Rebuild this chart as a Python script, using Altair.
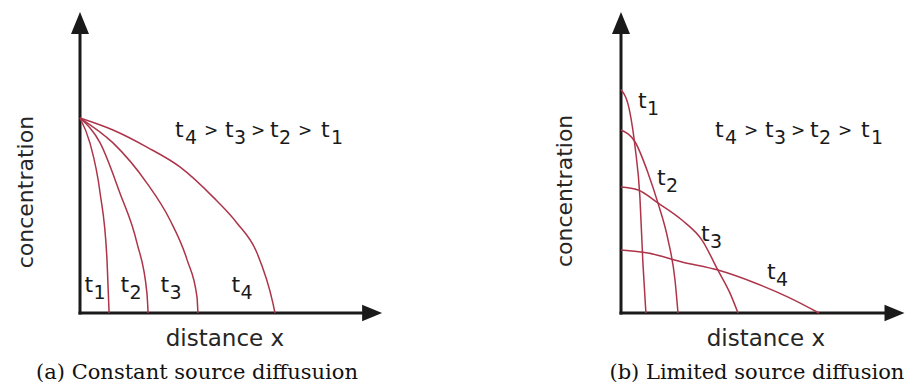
import altair as alt
import pandas as pd

RED = "#ad3449"
INK = "#1a1a1a"
TXT = "#262626"
SANS = "DejaVu Sans"
SERIF = "DejaVu Serif"

series = ["t1", "t2", "t3", "t4"]
label_digits = ["1", "2", "3", "4"]
order_digits = ["4", "3", "2", "1"]
x_title = "distance x"
y_title = "concentration"
caption_a = "(a) Constant source diffusuion"
caption_b = "(b) Limited source diffusion"

# ---- panel (a): constant source diffusion (distance, concentration) ----
a_t1_x = [0.0, 0.33, 0.67, 0.90, 0.97]
a_t1_y = [6.5, 5.67, 4.00, 1.77, 0.0]
a_t2_x = [0.0, 0.67, 1.33, 1.90, 2.23, 2.27]
a_t2_y = [6.5, 5.67, 4.00, 2.33, 0.67, 0.0]
a_t3_x = [0.0, 1.10, 2.23, 3.00, 3.57, 3.90, 3.93]
a_t3_y = [6.5, 5.67, 4.33, 3.10, 1.77, 0.53, 0.0]
a_t4_x = [0.0, 1.10, 2.23, 3.33, 4.43, 5.23, 5.90, 6.43, 6.50]
a_t4_y = [6.5, 6.10, 5.53, 4.87, 3.87, 3.00, 2.00, 0.33, 0.0]

# ---- panel (b): limited source diffusion ----
b_t1_x = [0.0, 0.30, 0.47, 0.63, 0.73, 0.83]
b_t1_y = [7.45, 6.67, 5.53, 3.87, 1.67, 0.0]
b_t2_x = [0.0, 0.47, 0.90, 1.23, 1.57, 1.80, 1.90]
b_t2_y = [6.10, 5.70, 4.67, 3.67, 2.43, 1.10, 0.0]
b_t3_x = [0.0, 0.57, 1.23, 2.03, 2.70, 3.23, 3.63, 3.90]
b_t3_y = [4.20, 4.10, 3.67, 3.10, 2.43, 1.43, 0.67, 0.0]
b_t4_x = [0.0, 0.90, 2.03, 3.23, 4.47, 5.57, 6.60]
b_t4_y = [2.10, 2.00, 1.70, 1.43, 1.00, 0.53, 0.0]

# label anchors (data units)
a_lab_x = [0.48, 1.68, 3.02, 5.38]
a_lab_y = [0.70, 0.70, 0.70, 0.70]
b_lab_x = [0.90, 1.53, 3.00, 5.20]
b_lab_y = [6.83, 4.27, 2.40, 1.13]

x_tip_a = 10.07
x_tip_b = 9.45
y_tip = 10.03


def curves_df(xs_list, ys_list):
    rows = []
    for s, xs, ys in zip(series, xs_list, ys_list):
        for x, y in zip(xs, ys):
            rows.append({"series": s, "x": x, "y": y})
    return pd.DataFrame(rows)


df_a = curves_df([a_t1_x, a_t2_x, a_t3_x, a_t4_x], [a_t1_y, a_t2_y, a_t3_y, a_t4_y])
df_b = curves_df([b_t1_x, b_t2_x, b_t3_x, b_t4_x], [b_t1_y, b_t2_y, b_t3_y, b_t4_y])

UP = "M0,0L0.818,2L-0.818,2Z"
RIGHT = "M0,0L-2,0.818L-2,-0.818Z"

# pixel offsets of the pieces of "t4 > t3 > t2 > t1" from its centre
ORDER_T_DX = [-86, -36, 9, 60]
ORDER_D_DX = [-76, -27, 18, 70]
ORDER_GT_DX = [-57, -10, 37]


def panel(df, x_dom, width, x_tip, lab_x, lab_y, order_xy, ytitle_xy, xtitle_xy, cap_xy, caption):
    xs = alt.Scale(domain=x_dom, nice=False, zero=False)
    ys = alt.Scale(domain=[-2.367, 10.167], nice=False, zero=False)
    X = lambda f: alt.X(f, type="quantitative", scale=xs, axis=None)
    Y = lambda f: alt.Y(f, type="quantitative", scale=ys, axis=None)

    axes = pd.DataFrame({"x": [0, 0], "y": [0, 0], "x2": [0, x_tip - 0.6], "y2": [y_tip - 0.6, 0]})
    rules = alt.Chart(axes).mark_rule(strokeWidth=3, color=INK, strokeCap="square").encode(
        x=X("x"), y=Y("y"), x2="x2", y2="y2")
    up = alt.Chart(pd.DataFrame({"x": [0], "y": [y_tip]})).mark_point(
        shape=UP, size=484, filled=True, color=INK, opacity=1, strokeWidth=0).encode(x=X("x"), y=Y("y"))
    right = alt.Chart(pd.DataFrame({"x": [x_tip], "y": [0]})).mark_point(
        shape=RIGHT, size=400, filled=True, color=INK, opacity=1, strokeWidth=0).encode(x=X("x"), y=Y("y"))

    lines = alt.Chart(df).mark_line(interpolate="monotone", strokeWidth=1.5, color=RED).encode(
        x=X("x"), y=Y("y"), detail="series:N")

    lab_df = pd.DataFrame({"x": lab_x, "y": lab_y, "t": ["t"] * 4, "d": label_digits})
    lab_t = alt.Chart(lab_df).mark_text(font=SANS, fontSize=22, color=INK, align="left",
                                        baseline="alphabetic", dx=-10).encode(x=X("x"), y=Y("y"), text="t:N")
    lab_d = alt.Chart(lab_df).mark_text(font=SANS, fontSize=19, color=INK, align="left",
                                        baseline="alphabetic", dx=-1, dy=7).encode(x=X("x"), y=Y("y"), text="d:N")

    layers = [rules, up, right, lines, lab_t, lab_d]

    odf = pd.DataFrame({"x": [order_xy[0]], "y": [order_xy[1]]})
    for i in range(4):
        layers.append(alt.Chart(odf).mark_text(text="t", font=SANS, fontSize=22, color=INK, align="left",
                                               baseline="alphabetic", dx=ORDER_T_DX[i]).encode(x=X("x"), y=Y("y")))
        layers.append(alt.Chart(odf).mark_text(text=order_digits[i], font=SANS, fontSize=19, color=INK,
                                               align="left", baseline="alphabetic", dx=ORDER_D_DX[i], dy=7)
                      .encode(x=X("x"), y=Y("y")))
    for i in range(3):
        layers.append(alt.Chart(odf).mark_text(text=">", font=SANS, fontSize=17, color=INK, align="left",
                                               baseline="alphabetic", dx=ORDER_GT_DX[i], dy=-1)
                      .encode(x=X("x"), y=Y("y")))

    ytl = alt.Chart(pd.DataFrame({"x": [ytitle_xy[0]], "y": [ytitle_xy[1]], "t": [y_title]})).mark_text(
        font=SANS, fontSize=22, color=TXT, align="center", baseline="middle", angle=270).encode(
        x=X("x"), y=Y("y"), text="t:N")

    xtl = alt.Chart(pd.DataFrame({"x": [xtitle_xy[0]], "y": [xtitle_xy[1]], "t": [x_title]})).mark_text(
        font=SANS, fontSize=23, color=TXT, align="center", baseline="alphabetic").encode(
        x=X("x"), y=Y("y"), text="t:N")

    cap = alt.Chart(pd.DataFrame({"x": [cap_xy[0]], "y": [cap_xy[1]], "t": [caption]})).mark_text(
        font=SERIF, fontSize=21, color="#111111", align="center", baseline="alphabetic").encode(
        x=X("x"), y=Y("y"), text="t:N")

    layers += [ytl, xtl, cap]
    return alt.layer(*layers).properties(width=width, height=376)


pa = panel(df_a, [-2.4, 12.533], 448, x_tip_a, a_lab_x, a_lab_y, (6.03, 5.87), (-1.8, 4.03),
           (4.83, -1.1), (3.9, -2.2), caption_a)
pb = panel(df_b, [-5.5, 9.467], 449, x_tip_b, b_lab_x, b_lab_y, (6.0, 5.87), (-1.87, 4.07),
           (4.83, -1.1), (4.53, -2.2), caption_b)

chart = alt.hconcat(pa, pb, spacing=0).properties(padding=0, background="white").configure_view(stroke=None)

chart.save("out.html", embed_options={"renderer": "svg", "actions": False})
